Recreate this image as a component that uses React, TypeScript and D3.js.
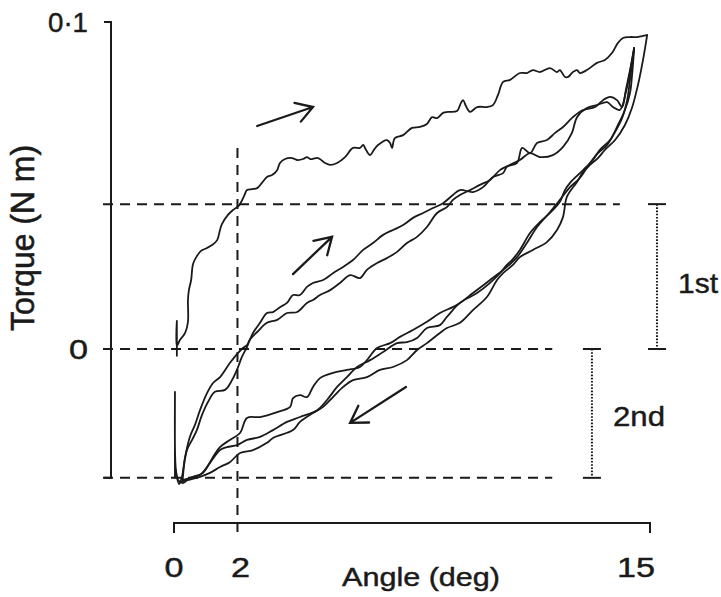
import React from "react";
import * as d3 from "d3";

// ---------- data (angle in deg, torque in N m) ----------
const angleTickValues = [0, 2, 15];
const angleTickLabels = ["0", "2", "15"];
const torqueTickValues = [0.1, 0, -0.0394];
const torqueTickLabels = ["0·1", "0", ""];

// reference levels
const firstLevel = 0.0443; // torque of first loading at 2 deg
const zeroLevel = 0;
const secondLevel = -0.0394; // minimum of later cycles
const markerAngle = 2;

const firstLoading: [number, number][] = [[0.09,-0.0021],[0.09,0.0086],[0.09,0.0009],[0.19,0.0028],[0.35,0.0049],[0.44,0.0083],[0.44,0.0150],[0.47,0.0180],[0.54,0.0211],[0.60,0.0260],[0.72,0.0284],[0.85,0.0300],[1.04,0.0309],[1.20,0.0318],[1.36,0.0333],[1.45,0.0364],[1.51,0.0382],[1.70,0.0410],[1.86,0.0425],[1.99,0.0434],[2.08,0.0443],[2.21,0.0468],[2.30,0.0486],[2.46,0.0489],[2.62,0.0492],[2.77,0.0508],[2.93,0.0526],[3.09,0.0532],[3.25,0.0547],[3.34,0.0569],[3.50,0.0581],[3.72,0.0584],[3.88,0.0578],[4.07,0.0581],[4.19,0.0587],[4.29,0.0581],[4.54,0.0584],[4.76,0.0569],[4.92,0.0563],[5.14,0.0569],[5.39,0.0587],[5.64,0.0615],[5.86,0.0615],[5.96,0.0624],[6.05,0.0609],[6.18,0.0593],[6.30,0.0609],[6.43,0.0624],[6.71,0.0639],[6.81,0.0630],[6.87,0.0615],[6.96,0.0645],[7.22,0.0654],[7.50,0.0676],[7.75,0.0679],[7.97,0.0688],[8.13,0.0709],[8.29,0.0706],[8.48,0.0722],[8.63,0.0725],[8.92,0.0728],[9.04,0.0752],[9.11,0.0761],[9.20,0.0743],[9.33,0.0725],[9.55,0.0740],[9.86,0.0740],[10.05,0.0746],[10.21,0.0777],[10.37,0.0817],[10.59,0.0823],[10.90,0.0844],[11.12,0.0844],[11.31,0.0853],[11.53,0.0847],[11.85,0.0859],[12.07,0.0847],[12.16,0.0853],[12.32,0.0832],[12.42,0.0832],[12.57,0.0847],[12.70,0.0853],[12.79,0.0844],[13.01,0.0853],[13.33,0.0875],[13.58,0.0884],[13.80,0.0905],[13.99,0.0936],[14.15,0.0951],[14.37,0.0954],[14.59,0.0954],[14.75,0.0957],[14.91,0.0960]];

const firstUnloading: [number, number][] = [[14.91,0.0960],[14.78,0.0884],[14.62,0.0807],[14.43,0.0737],[14.21,0.0685],[13.90,0.0639],[13.58,0.0609],[13.36,0.0584],[13.11,0.0563],[12.89,0.0541],[12.70,0.0511],[12.38,0.0465],[12.26,0.0404],[12.07,0.0364],[11.75,0.0327],[11.31,0.0303],[10.90,0.0281],[10.68,0.0257],[10.37,0.0232],[10.18,0.0211],[9.86,0.0159],[9.42,0.0119],[9.01,0.0080],[8.60,0.0064],[8.38,0.0049],[7.97,0.0018],[7.66,-0.0003],[7.34,-0.0034],[6.90,-0.0055],[6.49,-0.0064],[6.08,-0.0086],[5.64,-0.0095],[5.33,-0.0116],[5.01,-0.0147],[4.70,-0.0177],[4.38,-0.0196],[3.97,-0.0223],[3.75,-0.0248],[3.12,-0.0272],[2.93,-0.0287],[2.49,-0.0309],[2.08,-0.0318],[1.76,-0.0346],[1.45,-0.0361],[1.13,-0.0379],[0.82,-0.0391],[0.41,-0.0401],[0.19,-0.0407]];

const secondLoading: [number, number][] = [[0.03,-0.0394],[0.03,-0.0131],[0.06,-0.0370],[0.16,-0.0413],[0.25,-0.0391],[0.35,-0.0330],[0.50,-0.0269],[0.66,-0.0232],[0.82,-0.0187],[1.04,-0.0135],[1.23,-0.0104],[1.45,-0.0086],[1.76,-0.0043],[2.02,-0.0012],[2.17,0.0003],[2.30,0.0012],[2.49,0.0049],[2.71,0.0080],[2.93,0.0110],[3.12,0.0113],[3.34,0.0128],[3.56,0.0141],[3.75,0.0165],[3.97,0.0165],[4.19,0.0190],[4.38,0.0202],[4.70,0.0211],[5.01,0.0232],[5.33,0.0251],[5.64,0.0272],[5.96,0.0303],[6.27,0.0324],[6.59,0.0349],[6.90,0.0364],[7.22,0.0379],[7.53,0.0401],[7.85,0.0416],[8.16,0.0431],[8.48,0.0446],[8.79,0.0471],[9.01,0.0486],[9.42,0.0480],[9.74,0.0495],[10.05,0.0526],[10.37,0.0538],[10.49,0.0557],[10.81,0.0569],[10.97,0.0615],[11.22,0.0599],[11.44,0.0630],[11.75,0.0639],[12.01,0.0661],[12.26,0.0679],[12.57,0.0709],[12.89,0.0731],[13.27,0.0740],[13.52,0.0761],[13.74,0.0771],[13.96,0.0761],[14.12,0.0740],[14.24,0.0792],[14.37,0.0853],[14.50,0.0920]];

const secondUnloading: [number, number][] = [[14.50,0.0920],[14.43,0.0832],[14.37,0.0783],[14.21,0.0731],[13.99,0.0685],[13.74,0.0639],[13.42,0.0609],[13.20,0.0578],[12.89,0.0547],[12.48,0.0508],[12.32,0.0486],[12.16,0.0450],[11.85,0.0416],[11.53,0.0388],[11.22,0.0355],[10.90,0.0303],[10.65,0.0272],[10.49,0.0257],[10.27,0.0232],[9.96,0.0202],[9.55,0.0171],[9.01,0.0141],[8.60,0.0098],[8.38,0.0073],[7.97,0.0064],[7.66,0.0034],[7.34,0.0021],[7.03,0.0018],[6.59,-0.0009],[6.18,-0.0034],[5.77,-0.0055],[5.45,-0.0086],[5.14,-0.0116],[4.82,-0.0156],[4.51,-0.0187],[3.97,-0.0208],[3.56,-0.0223],[3.12,-0.0248],[2.71,-0.0269],[2.30,-0.0278],[1.99,-0.0294],[1.67,-0.0300],[1.45,-0.0309],[1.13,-0.0349],[0.91,-0.0379],[0.60,-0.0391],[0.28,-0.0401]];

const thirdLoading: [number, number][] = [[0.28,-0.0401],[0.28,-0.0391],[0.41,-0.0309],[0.57,-0.0278],[0.72,-0.0248],[0.88,-0.0202],[1.07,-0.0162],[1.29,-0.0131],[1.61,-0.0125],[1.83,-0.0095],[2.02,-0.0055],[2.14,-0.0024],[2.30,0.0006],[2.39,0.0028],[2.62,0.0052],[2.93,0.0080],[3.25,0.0089],[3.56,0.0110],[3.88,0.0113],[4.19,0.0141],[4.38,0.0150],[4.60,0.0165],[4.92,0.0180],[5.23,0.0202],[5.55,0.0226],[5.86,0.0217],[6.08,0.0242],[6.40,0.0263],[6.71,0.0278],[7.03,0.0297],[7.34,0.0324],[7.66,0.0343],[7.97,0.0373],[8.29,0.0416],[8.60,0.0434],[8.79,0.0456],[9.01,0.0471],[9.33,0.0486],[9.64,0.0502],[9.96,0.0517],[10.27,0.0547],[10.59,0.0563],[10.90,0.0578],[11.22,0.0599],[11.53,0.0587],[11.94,0.0593],[12.26,0.0618],[12.54,0.0661],[12.70,0.0709],[13.01,0.0737],[13.33,0.0746],[13.65,0.0755],[13.83,0.0740],[14.05,0.0731],[14.24,0.0786],[14.37,0.0847],[14.50,0.0920]];

const thirdUnloading: [number, number][] = [[14.50,0.0920],[14.37,0.0823],[14.28,0.0761],[14.12,0.0706],[13.90,0.0664],[13.65,0.0624],[13.36,0.0599],[13.11,0.0569],[12.79,0.0523],[12.48,0.0495],[12.16,0.0456],[11.85,0.0419],[11.44,0.0373],[11.12,0.0324],[10.81,0.0281],[10.49,0.0251],[9.96,0.0211],[9.42,0.0171],[8.92,0.0135],[8.38,0.0110],[7.97,0.0083],[7.53,0.0058],[7.12,0.0037],[6.81,0.0018],[6.40,0.0003],[6.08,-0.0034],[5.86,-0.0055],[5.45,-0.0064],[5.01,-0.0073],[4.60,-0.0089],[4.38,-0.0116],[4.19,-0.0147],[3.97,-0.0141],[3.75,-0.0150],[3.66,-0.0177],[3.25,-0.0193],[2.71,-0.0208],[2.30,-0.0211],[2.08,-0.0257],[1.76,-0.0278],[1.45,-0.0300],[1.23,-0.0330],[1.04,-0.0361],[0.82,-0.0385],[0.50,-0.0394],[0.28,-0.0410],[0.13,-0.0401],[0.06,-0.0370]];

const traces = [firstLoading, firstUnloading, secondLoading, secondUnloading, thirdLoading, thirdUnloading];

// direction arrows: [tailAngle, tailTorque, tipAngle, tipTorque]
const arrows: [number, number, number, number][] = [
  [2.62, 0.0682, 4.38, 0.0740],
  [3.75, 0.0229, 4.98, 0.0343],
  [7.31, -0.0116, 5.55, -0.0226],
];

// ---------- layout ----------
const W = 721;
const H = 597;
const X0 = 174, X1 = 650; // x axis extent (0 .. 15 deg)
const Y_TOP = 22, Y_ZERO = 349; // 0.1 and 0 N m
const AXIS_Y = 523; // x axis line
const AXIS_X = 111; // y axis line
const INK = "#1a1a1a";
const FONT = "'Liberation Sans', Arial, Helvetica, sans-serif";
const TEXT_STROKE = 0.45;

export default function App() {
  const x = d3.scaleLinear().domain([0, 15]).range([X0, X1]);
  const y = d3.scaleLinear().domain([0, 0.1]).range([Y_ZERO, Y_TOP]);
  const line = d3
    .line<[number, number]>()
    .x((d) => x(d[0]))
    .y((d) => y(d[1]))
    .curve(d3.curveCatmullRom.alpha(0.5));

  const arrowPath = (a: [number, number, number, number]) => {
    const x1 = x(a[0]), y1 = y(a[1]), x2 = x(a[2]), y2 = y(a[3]);
    const ang = Math.atan2(y2 - y1, x2 - x1);
    const L = 19, spread = 0.55;
    const p = d3.path();
    p.moveTo(x1, y1);
    p.lineTo(x2, y2);
    p.moveTo(x2 - L * Math.cos(ang - spread), y2 - L * Math.sin(ang - spread));
    p.lineTo(x2, y2);
    p.lineTo(x2 - L * Math.cos(ang + spread), y2 - L * Math.sin(ang + spread));
    return p.toString();
  };

  const dash = "10,7";
  const bracket = (xa: number, v0: number, v1: number) => (
    <g stroke={INK}>
      <line x1={xa} x2={xa} y1={y(v0)} y2={y(v1)} strokeWidth={2} strokeDasharray="1.6,1.6" />
      <line x1={xa - 9} x2={xa + 9} y1={y(v0)} y2={y(v0)} strokeWidth={2} />
      <line x1={xa - 9} x2={xa + 9} y1={y(v1)} y2={y(v1)} strokeWidth={2} />
    </g>
  );

  const textProps = { fill: INK, stroke: INK, strokeWidth: TEXT_STROKE };

  return (
    <svg
      width={W}
      height={H}
      viewBox={`0 0 ${W} ${H}`}
      style={{ position: "absolute", left: 0, top: 0, background: "#fff" }}
      fontFamily={FONT}
    >
      <rect width={W} height={H} fill="#fff" />

      {/* dashed reference lines */}
      <g stroke={INK} strokeWidth={2} strokeDasharray={dash} fill="none">
        <line x1={103} x2={x(14.05)} y1={y(firstLevel)} y2={y(firstLevel)} />
        <line x1={103} x2={x(11.92)} y1={y(zeroLevel)} y2={y(zeroLevel)} />
        <line x1={103} x2={x(11.92)} y1={y(secondLevel)} y2={y(secondLevel)} />
        <line x1={x(markerAngle)} x2={x(markerAngle)} y1={y(0.0615)} y2={AXIS_Y + 14} />
      </g>

      {/* y axis */}
      <g stroke={INK} strokeWidth={2} fill="none">
        <line x1={AXIS_X} x2={AXIS_X} y1={y(torqueTickValues[0]) - 1} y2={y(torqueTickValues[2]) + 1} />
        {torqueTickValues.map((v, i) => (
          <line key={i} x1={AXIS_X - 7} x2={AXIS_X} y1={y(v)} y2={y(v)} />
        ))}
      </g>
      {torqueTickValues.map((v, i) =>
        torqueTickLabels[i] ? (
          <text
            key={i}
            x={88}
            y={y(v) + 10}
            textAnchor="end"
            fontSize={28}
            {...textProps}
            textLength={torqueTickLabels[i].length > 1 ? 40 : 19}
            lengthAdjust="spacingAndGlyphs"
          >
            {torqueTickLabels[i]}
          </text>
        ) : null
      )}
      <text
        transform={`translate(34,238) scale(1.25,1) rotate(-90)`}
        textAnchor="middle"
        fontSize={27}
        {...textProps}
        textLength={186}
        lengthAdjust="spacingAndGlyphs"
      >
        Torque (N m)
      </text>

      {/* x axis */}
      <g stroke={INK} strokeWidth={2} fill="none">
        <line x1={x(0)} x2={x(15)} y1={AXIS_Y} y2={AXIS_Y} />
        <line x1={x(0)} x2={x(0)} y1={AXIS_Y - 1} y2={AXIS_Y + 10} />
        <line x1={x(15)} x2={x(15)} y1={AXIS_Y - 1} y2={AXIS_Y + 10} />
      </g>
      {angleTickValues.map((v, i) => (
        <text
          key={i}
          x={i === 2 ? x(v) + 5 : x(v) + (i === 1 ? 3 : 0)}
          y={577}
          textAnchor={i === 2 ? "end" : "middle"}
          fontSize={28}
          {...textProps}
          textLength={angleTickLabels[i].length * 19}
          lengthAdjust="spacingAndGlyphs"
        >
          {angleTickLabels[i]}
        </text>
      ))}
      <text
        x={421}
        y={586}
        textAnchor="middle"
        fontSize={26}
        {...textProps}
        textLength={158}
        lengthAdjust="spacingAndGlyphs"
      >
        Angle (deg)
      </text>

      {/* traces */}
      <g fill="none" stroke={INK} strokeWidth={1.8} strokeLinejoin="round" strokeLinecap="round">
        {traces.map((t, i) => (
          <path key={i} d={line(t) ?? ""} />
        ))}
      </g>

      {/* arrows */}
      <g fill="none" stroke={INK} strokeWidth={2.3} strokeLinecap="round" strokeLinejoin="miter">
        {arrows.map((a, i) => (
          <path key={i} d={arrowPath(a)} />
        ))}
      </g>

      {/* brackets */}
      {bracket(x(15.22), firstLevel, zeroLevel)}
      {bracket(x(13.17), zeroLevel, secondLevel)}
      <text x={678} y={293} fontSize={28} {...textProps} textLength={40} lengthAdjust="spacingAndGlyphs">
        1st
      </text>
      <text x={613} y={426} fontSize={28} {...textProps} textLength={52} lengthAdjust="spacingAndGlyphs">
        2nd
      </text>
    </svg>
  );
}
